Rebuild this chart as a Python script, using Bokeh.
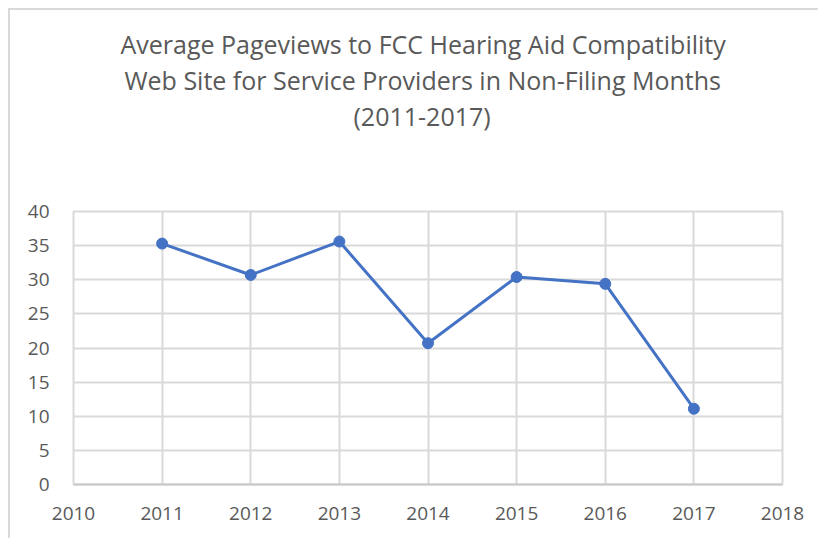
from bokeh.plotting import figure
from bokeh.models import Title, FixedTicker, Range1d
from bokeh.embed import file_html
from bokeh.resources import INLINE

years = [2011, 2012, 2013, 2014, 2015, 2016, 2017]
pageviews = [35.3, 30.7, 35.6, 20.7, 30.4, 29.4, 11.1]
x_ticks = [2010, 2011, 2012, 2013, 2014, 2015, 2016, 2017, 2018]
y_ticks = [0, 5, 10, 15, 20, 25, 30, 35, 40]
title_lines = [
    "Average Pageviews to FCC Hearing Aid Compatibility",
    "Web Site for Service Providers in Non-Filing Months",
    "(2011-2017)",
]

TEXT = "#595959"
GRID = "#d9d9d9"
FONT = "Open Sans"

p = figure(width=810, height=530, output_backend="svg", toolbar_location=None,
           x_range=Range1d(2010, 2018), y_range=Range1d(0, 40),
           min_border_left=63, min_border_right=38, min_border_top=201, min_border_bottom=56)
p.styles = {"margin-left": "8px", "margin-top": "8px",
            "border-left": f"2px solid {GRID}", "border-top": f"2px solid {GRID}"}
p.outline_line_color = GRID
p.outline_line_width = 2

for ax in (p.xaxis, p.yaxis):
    ax.major_tick_line_color = None
    ax.minor_tick_line_color = None
    ax.major_label_text_color = TEXT
    ax.major_label_text_font = FONT
    ax.major_label_text_font_size = "19px"
p.xaxis.ticker = FixedTicker(ticks=x_ticks)
p.yaxis.ticker = FixedTicker(ticks=y_ticks)
p.xaxis.axis_line_color = "#c8c8c8"
p.xaxis.axis_line_width = 2
p.yaxis.axis_line_color = None
p.xaxis.major_label_standoff = 16
p.yaxis.major_label_standoff = 18

p.grid.grid_line_color = GRID
p.grid.grid_line_width = 2

p.line(years, pageviews, line_color="#4472C4", line_width=3)
p.scatter(years, pageviews, size=11, fill_color="#4472C4", line_color="#4472C4")

# spacer between the frame and the title block
p.add_layout(Title(text=" ", text_font_size="1px", standoff=76), "above")

offsets = [47, 51, 280]
for t, off in reversed(list(zip(title_lines, offsets))):
    p.add_layout(Title(text=t, align="left", offset=off, standoff=0,
                       text_font=FONT, text_font_size="25px",
                       text_font_style="normal", text_color=TEXT), "above")

open("out.html", "w").write(file_html(p, INLINE))
